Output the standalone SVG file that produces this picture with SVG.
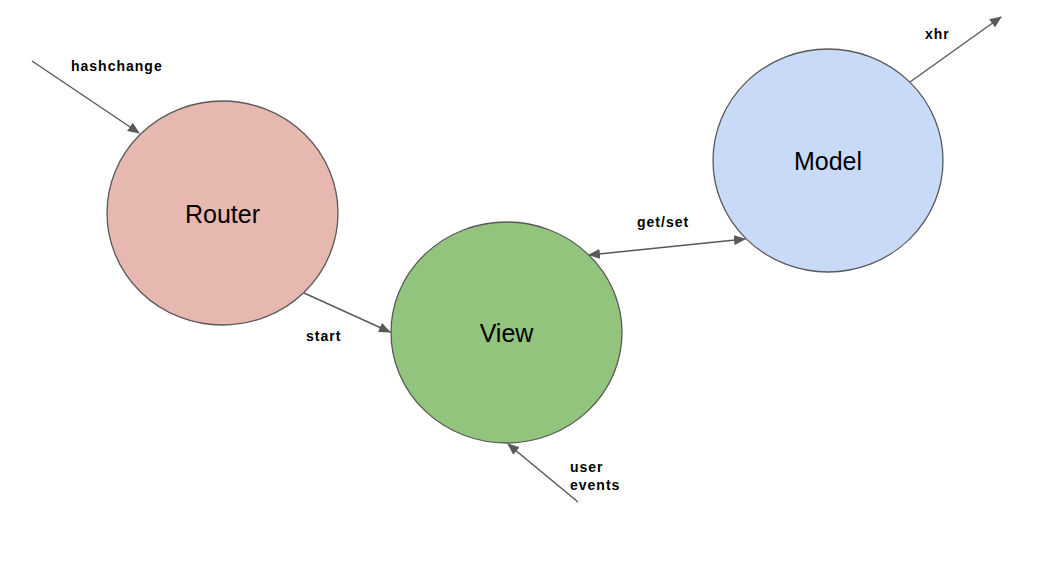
<svg xmlns="http://www.w3.org/2000/svg" width="1037" height="569" viewBox="0 0 1037 569">
<style>
.node{stroke:#595959;stroke-width:1.3}
.lbl{font-family:"Liberation Sans",Arial,sans-serif;font-size:25px;fill:#000;text-anchor:middle}
.el{font-family:"Liberation Sans",Arial,sans-serif;font-size:14px;font-weight:bold;letter-spacing:1px;fill:#000}
.edge{stroke:#595959;stroke-width:1.4;fill:none}
</style>
<defs>
<marker id="ah" viewBox="0 0 12 10" refX="11" refY="5" markerWidth="12" markerHeight="10" markerUnits="userSpaceOnUse" orient="auto-start-reverse">
<path d="M0,0 L12,5 L0,10 z" fill="#595959"/>
</marker>
</defs>
<rect width="1037" height="569" fill="#fff"/>
<g id="router">
<ellipse class="node" cx="222.5" cy="213" rx="115.5" ry="112" fill="#e6b8af"/>
<text class="lbl" x="222.5" y="223">Router</text>
</g>
<g id="view">
<ellipse class="node" cx="506.5" cy="332.5" rx="115.5" ry="110.5" fill="#93c47d"/>
<text class="lbl" x="506.5" y="342">View</text>
</g>
<g id="model">
<ellipse class="node" cx="828" cy="160.5" rx="115" ry="111.5" fill="#c9daf8"/>
<text class="lbl" x="828" y="170">Model</text>
</g>
<g id="connectors">
<line class="edge" x1="32" y1="61" x2="139" y2="133" marker-end="url(#ah)"/>
<line class="edge" x1="304" y1="293" x2="390" y2="332" marker-end="url(#ah)"/>
<line class="edge" x1="589" y1="255" x2="745" y2="239" marker-start="url(#ah)" marker-end="url(#ah)"/>
<line class="edge" x1="910" y1="82" x2="1001" y2="17" marker-end="url(#ah)"/>
<line class="edge" x1="578" y1="502" x2="508" y2="444" marker-end="url(#ah)"/>
</g>
<g id="edge-labels">
<text class="el" x="71" y="71">hashchange</text>
<text class="el" x="306" y="341">start</text>
<text class="el" x="637" y="227">get/set</text>
<text class="el" x="925" y="39">xhr</text>
<text class="el" x="570" y="472">user</text>
<text class="el" x="570" y="490">events</text>
</g>
</svg>
